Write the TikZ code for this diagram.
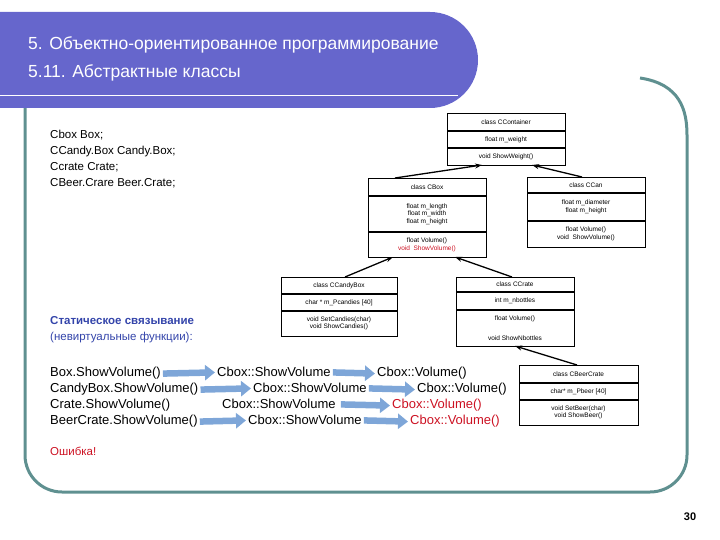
\documentclass[tikz,border=0pt]{standalone}
\usepackage{fontspec}
\setmainfont{Liberation Sans}
\usetikzlibrary{arrows.meta}
\definecolor{banner}{HTML}{6666CC}
\definecolor{frame}{HTML}{5F9090}
\definecolor{barrow}{HTML}{7EA6D8}
\definecolor{sblue}{HTML}{3344AA}
\definecolor{ered}{HTML}{CC1122}
\begin{document}
\begin{tikzpicture}[x=1pt,y=-1pt,
  cls/.style={draw=black,line width=1.1pt,anchor=north west,inner sep=0pt},
  ct/.style={font=\fontsize{6.5}{7.5}\selectfont,align=center,inner sep=0pt},
  inh/.style={line width=1.3pt,-{Stealth[length=7pt,width=5pt]}},
  ltxt/.style={anchor=base west,inner sep=0pt,font=\fontsize{11.5}{13}\selectfont},
  vtxt/.style={anchor=base west,inner sep=0pt,font=\fontsize{13}{15}\selectfont},
  barr/.style={draw=barrow,line width=6.5pt,-{Triangle[length=10pt,width=15pt]},shorten <=2pt,shorten >=2pt}]
\useasboundingbox (0,0) rectangle (720,540);
% frame
\draw[frame,line width=3pt] (640,78) .. controls (680,84) and (687,110) .. (687,135) -- (687,455) arc[start angle=0,end angle=90,radius=37] -- (62,492) arc[start angle=90,end angle=180,radius=37] -- (25,100);
% banner
\fill[banner] (0,12) -- (430,12) arc[start angle=-90,end angle=0,radius=48] -- (478,60) arc[start angle=0,end angle=90,radius=48] -- (0,108) -- cycle;
\draw[white,line width=1pt] (0,96) -- (458,96);
\node[anchor=base west,inner sep=0pt,text=white,font=\fontsize{17.5}{21}\selectfont] (t1) at (28,50) {5. Объектно-ориентированное программирование};
\node[anchor=base west,inner sep=0pt,text=white,font=\fontsize{17.5}{21}\selectfont] (t2) at (28,78) {5.11. Абстрактные классы};
% CContainer
\node[cls,minimum width=118,minimum height=52] (cc) at (447,113) {};
\draw[line width=1.1pt] (447,131) -- (565,131) (447,148) -- (565,148);
\node[ct] (cc1) at (506,122) {class CContainer};
\node[ct] (cc2) at (506,139.5) {float m\_weight};
\node[ct] (cc3) at (506,156.5) {void ShowWeight()};
% CBox
\node[cls,minimum width=118,minimum height=79] (cb) at (368,178) {};
\draw[line width=1.1pt] (368,196) -- (486,196) (368,232) -- (486,232);
\node[ct] (cb1) at (427,187) {class CBox};
\node[ct] (cb2) at (427,214) {float m\_length\\float m\_width\\float m\_height};
\node[ct] (cb3) at (427,245) {float Volume()\\\textcolor{ered}{void \ ShowVolume()}};
% CCan
\node[cls,minimum width=118,minimum height=70] (cn) at (527,177) {};
\draw[line width=1.1pt] (527,193) -- (645,193) (527,221) -- (645,221);
\node[ct] (cn1) at (586,185) {class CCan};
\node[ct] (cn2) at (586,207) {float m\_diameter\\float m\_height};
\node[ct] (cn3) at (586,234) {float Volume()\\void \ ShowVolume()};
% CCandyBox
\node[cls,minimum width=116,minimum height=59] (cy) at (281,277) {};
\draw[line width=1.1pt] (281,294) -- (397,294) (281,311) -- (397,311);
\node[ct] (cy1) at (339,285.5) {class CCandyBox};
\node[ct] (cy2) at (339,302.5) {char * m\_Pcandies [40]};
\node[ct] (cy3) at (339,323.5) {void SetCandies(char)\\void ShowCandies()};
% CCrate
\node[cls,minimum width=118,minimum height=69] (cr) at (456,277) {};
\draw[line width=1.1pt] (456,292) -- (574,292) (456,310) -- (574,310);
\node[ct] (cr1) at (515,284.5) {class CCrate};
\node[ct] (cr2) at (515,301) {int m\_nbottles};
\node[ct] (cr3) at (515,319) {float Volume()};
\node[ct] (cr4) at (515,338) {void ShowNbottles};
% CBeerCrate
\node[cls,minimum width=119,minimum height=60] (bc) at (519,365) {};
\draw[line width=1.1pt] (519,383) -- (638,383) (519,400) -- (638,400);
\node[ct] (bc1) at (578.5,374) {class CBeerCrate};
\node[ct] (bc2) at (578.5,391.5) {char* m\_Pbeer [40]};
\node[ct] (bc3) at (578.5,412.5) {void SetBeer(char)\\void ShowBeer()};
% inheritance
\coordinate (cbT) at (395,178); \coordinate (ccB1) at (482,165);
\coordinate (cnT) at (582,177); \coordinate (ccB2) at (532,165);
\coordinate (cyT) at (345,277); \coordinate (cbB1) at (393,257);
\coordinate (crT) at (512,277); \coordinate (cbB2) at (455,257);
\coordinate (bcT) at (577,365); \coordinate (crB) at (515,346);
\draw[inh] (cbT) -- (ccB1);
\draw[inh] (cnT) -- (ccB2);
\draw[inh] (cyT) -- (cbB1);
\draw[inh] (crT) -- (cbB2);
\draw[inh] (bcT) -- (crB);
% left text
\node[ltxt] (d1) at (50,139) {Cbox Box;};
\node[ltxt] (d2) at (50,155) {CCandy.Box Candy.Box;};
\node[ltxt] (d3) at (50,171) {Ccrate Crate;};
\node[ltxt] (d4) at (50,187) {CBeer.Crare Beer.Crate;};
\node[ltxt,text=sblue,font=\bfseries\fontsize{11.5}{13}\selectfont] (s1) at (50,324) {Статическое связывание};
\node[ltxt,text=sblue] (s2) at (50,340) {(невиртуальные функции):};
% call chains
\node[vtxt] (a1) at (50,376) {Box.ShowVolume()};
\node[vtxt] (b1) at (217,376) {Cbox::ShowVolume};
\node[vtxt] (c1) at (377,376) {Cbox::Volume()};
\node[vtxt] (a2) at (50,392) {CandyBox.ShowVolume()};
\node[vtxt] (b2) at (253,392) {Cbox::ShowVolume};
\node[vtxt] (c2) at (417,392) {Cbox::Volume()};
\node[vtxt] (a3) at (50,408) {Crate.ShowVolume()};
\node[vtxt] (b3) at (222,408) {Cbox::ShowVolume};
\node[vtxt,text=ered] (c3) at (392,408) {Cbox::Volume()};
\node[vtxt] (a4) at (50,424) {BeerCrate.ShowVolume()};
\node[vtxt] (b4) at (248,424) {Cbox::ShowVolume};
\node[vtxt,text=ered] (c4) at (410,424) {Cbox::Volume()};
\draw[barr] ([yshift=-1pt]a1.east) -- ([yshift=-1pt]b1.west);
\draw[barr] ([yshift=-1pt]b1.east) -- ([yshift=-1pt]c1.west);
\draw[barr] ([yshift=-1pt]a2.east) -- ([yshift=-1pt]b2.west);
\draw[barr] ([yshift=-1pt]b2.east) -- ([yshift=-1pt]c2.west);
\draw[barr] ([yshift=-1pt,xshift=3pt]b3.east) -- ([yshift=-1pt]c3.west);
\draw[barr] ([yshift=-1pt]a4.east) -- ([yshift=-1pt]b4.west);
\draw[barr] ([yshift=-1pt]b4.east) -- ([yshift=-1pt]c4.west);
\node[ltxt,text=ered] (err) at (50,455) {Ошибка!};
\node[anchor=base,inner sep=0pt,font=\bfseries\fontsize{11}{13}\selectfont] (pg) at (690,520) {30};
\end{tikzpicture}
\end{document}
